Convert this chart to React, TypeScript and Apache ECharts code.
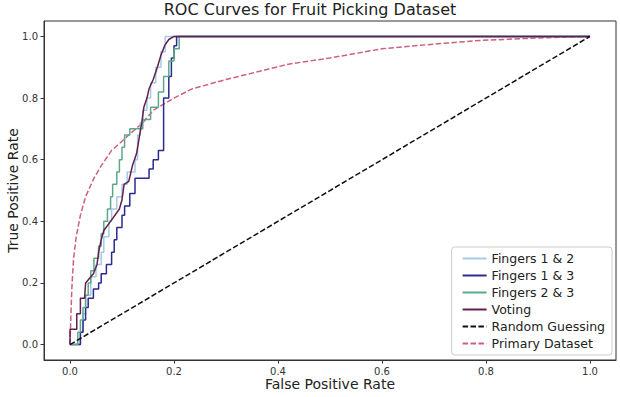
import React, { useEffect, useRef } from "react";
import * as echarts from "echarts";

const title = "ROC Curves for Fruit Picking Dataset";
const xName = "False Positive Rate";
const yName = "True Positive Rate";
const tickValues = [0, 0.2, 0.4, 0.6, 0.8, 1.0];

const seriesNames = [
  "Fingers 1 & 2",
  "Fingers 1 & 3",
  "Fingers 2 & 3",
  "Voting",
  "Random Guessing",
  "Primary Dataset",
];

const fingers12: number[][] = [
  [0, 0], [0.02, 0], [0.02, 0.04], [0.025, 0.04], [0.025, 0.1], [0.03, 0.1], [0.03, 0.16],
  [0.04, 0.16], [0.04, 0.22], [0.05, 0.22], [0.05, 0.26], [0.06, 0.26], [0.06, 0.3],
  [0.065, 0.3], [0.065, 0.35], [0.075, 0.35], [0.075, 0.4], [0.08, 0.4], [0.08, 0.44],
  [0.09, 0.44], [0.09, 0.48], [0.1, 0.48], [0.1, 0.52], [0.11, 0.52], [0.11, 0.56],
  [0.125, 0.56], [0.125, 0.6], [0.13, 0.6], [0.13, 0.68], [0.135, 0.68], [0.135, 0.72],
  [0.14, 0.72], [0.14, 0.76], [0.148, 0.76], [0.148, 0.8], [0.155, 0.8], [0.155, 0.85],
  [0.165, 0.85], [0.165, 0.9], [0.175, 0.9], [0.175, 0.95], [0.183, 0.95], [0.183, 1.0],
  [1, 1],
];

const fingers13: number[][] = [
  [0, 0], [0.02, 0], [0.02, 0.04], [0.025, 0.04], [0.025, 0.08], [0.03, 0.08], [0.03, 0.12],
  [0.035, 0.12], [0.035, 0.15], [0.045, 0.15], [0.045, 0.18], [0.055, 0.18], [0.055, 0.2],
  [0.06, 0.2], [0.06, 0.23], [0.07, 0.23], [0.07, 0.26], [0.08, 0.26], [0.08, 0.3],
  [0.085, 0.3], [0.085, 0.34], [0.09, 0.34], [0.09, 0.38], [0.1, 0.38], [0.1, 0.42],
  [0.105, 0.42], [0.105, 0.45], [0.115, 0.45], [0.115, 0.49], [0.125, 0.49], [0.125, 0.54],
  [0.152, 0.54], [0.152, 0.57], [0.16, 0.57], [0.16, 0.6], [0.17, 0.6], [0.17, 0.63],
  [0.18, 0.63], [0.18, 0.8], [0.19, 0.8], [0.19, 0.87], [0.195, 0.87], [0.195, 0.93],
  [0.2, 0.93], [0.2, 0.97], [0.205, 0.97], [0.205, 1.0], [1, 1],
];

const fingers23: number[][] = [
  [0, 0], [0.015, 0], [0.015, 0.04], [0.02, 0.04], [0.02, 0.08], [0.025, 0.08], [0.025, 0.12],
  [0.03, 0.12], [0.03, 0.16], [0.035, 0.16], [0.035, 0.2], [0.04, 0.2], [0.04, 0.24],
  [0.046, 0.24], [0.046, 0.28], [0.055, 0.28], [0.055, 0.32], [0.06, 0.32], [0.06, 0.36],
  [0.065, 0.36], [0.065, 0.4], [0.072, 0.4], [0.072, 0.44], [0.078, 0.44], [0.078, 0.48],
  [0.082, 0.48], [0.082, 0.52], [0.09, 0.52], [0.09, 0.56], [0.095, 0.56], [0.095, 0.6],
  [0.1, 0.6], [0.1, 0.64], [0.105, 0.64], [0.105, 0.68], [0.115, 0.68], [0.115, 0.7],
  [0.14, 0.7], [0.14, 0.73], [0.155, 0.73], [0.155, 0.77], [0.17, 0.77], [0.17, 0.82],
  [0.18, 0.82], [0.18, 0.87], [0.19, 0.87], [0.19, 0.92], [0.2, 0.92], [0.2, 0.96],
  [0.21, 0.96], [0.21, 1.0], [1, 1],
];

const voting: number[][] = [
  [0, 0], [0, 0.05], [0.013, 0.05], [0.013, 0.1], [0.02, 0.1], [0.02, 0.15], [0.028, 0.15],
  [0.03, 0.2], [0.045, 0.23], [0.052, 0.26], [0.055, 0.3], [0.06, 0.34], [0.065, 0.37],
  [0.078, 0.4], [0.095, 0.44], [0.1, 0.47], [0.104, 0.52], [0.113, 0.53], [0.12, 0.58],
  [0.128, 0.62], [0.133, 0.67], [0.138, 0.72], [0.142, 0.77], [0.148, 0.8], [0.152, 0.83],
  [0.16, 0.86], [0.168, 0.9], [0.175, 0.94], [0.182, 0.97], [0.19, 0.99], [0.2, 1.0], [1, 1],
];

const randomGuess: number[][] = [
  [0, 0], [1, 1],
];

const primary: number[][] = [
  [0, 0], [0.002, 0.11], [0.004, 0.2], [0.007, 0.28], [0.012, 0.35], [0.02, 0.42],
  [0.03, 0.48], [0.046, 0.54], [0.06, 0.58], [0.08, 0.63], [0.1, 0.66], [0.113, 0.68],
  [0.14, 0.72], [0.16, 0.76], [0.2, 0.8], [0.235, 0.83], [0.3, 0.86], [0.42, 0.91],
  [0.5, 0.93], [0.6, 0.96], [0.7, 0.975], [0.79, 0.987], [0.9, 0.995], [1, 1],
];

const seriesData = [fingers12, fingers13, fingers23, voting, randomGuess, primary];
const colors = ["#a3cbe6", "#2b2a8f", "#5ea88a", "#621f4d", "#111111", "#cc607e"];
const dashed = [false, false, false, false, true, true];

const FONT = "DejaVu Sans";

export default function App() {
  const ref = useRef<HTMLDivElement>(null);
  useEffect(() => {
    if (!ref.current) return;
    const chart = echarts.init(ref.current, undefined, { renderer: "svg" });
    const axisCommon = {
      type: "value" as const,
      min: -0.05,
      max: 1.05,
      nameLocation: "middle" as const,
      nameMoveOverlap: false,
      nameTextStyle: { fontFamily: FONT, fontSize: 14, color: "#222" },
      axisLine: { show: true, onZero: false, lineStyle: { color: "#333", width: 1 } },
      axisTick: {
        show: true,
        length: 3.5,
        customValues: tickValues,
        lineStyle: { color: "#333" },
      },
      axisLabel: {
        customValues: tickValues,
        fontFamily: FONT,
        fontSize: 10,
        color: "#333",
        margin: 6,
        formatter: (v: number) => v.toFixed(1),
      },
      splitLine: { show: false },
    };
    chart.setOption({
      animation: false,
      backgroundColor: "#fff",
      title: {
        text: title,
        left: "center",
        top: 0,
        padding: [1, 0, 0, 0],
        textStyle: { fontFamily: FONT, fontSize: 16, fontWeight: "normal", color: "#222" },
      },
      grid: {
        left: 44,
        right: 4,
        top: 21,
        bottom: 37,
        show: true,
        borderColor: "#333",
        borderWidth: 1,
        outerBoundsMode: "none",
        containLabel: false,
      },
      xAxis: { ...axisCommon, name: xName, nameGap: 17 },
      yAxis: { ...axisCommon, name: yName, nameGap: 24 },
      legend: {
        data: seriesNames,
        orient: "vertical",
        right: 8,
        bottom: 42,
        backgroundColor: "#fff",
        borderColor: "#ccc",
        borderWidth: 1,
        borderRadius: 3,
        padding: [5, 7, 5, 10],
        itemWidth: 24,
        itemHeight: 10,
        itemGap: 4,
        itemStyle: { opacity: 0 },
        textStyle: { fontFamily: FONT, fontSize: 12.5, color: "#222" },
      },
      series: seriesNames.map((name, i) => ({
        name,
        type: "line",
        data: seriesData[i],
        symbol: "none",
        color: colors[i],
        lineStyle: {
          color: colors[i],
          width: 1.5,
          type: dashed[i] ? [5.5, 2.4] : "solid",
        },
        z: i === 5 ? 1 : 2,
      })),
    });
    return () => chart.dispose();
  }, []);
  return <div ref={ref} style={{ width: 620, height: 397, position: "absolute", left: 0, top: 0 }} />;
}
